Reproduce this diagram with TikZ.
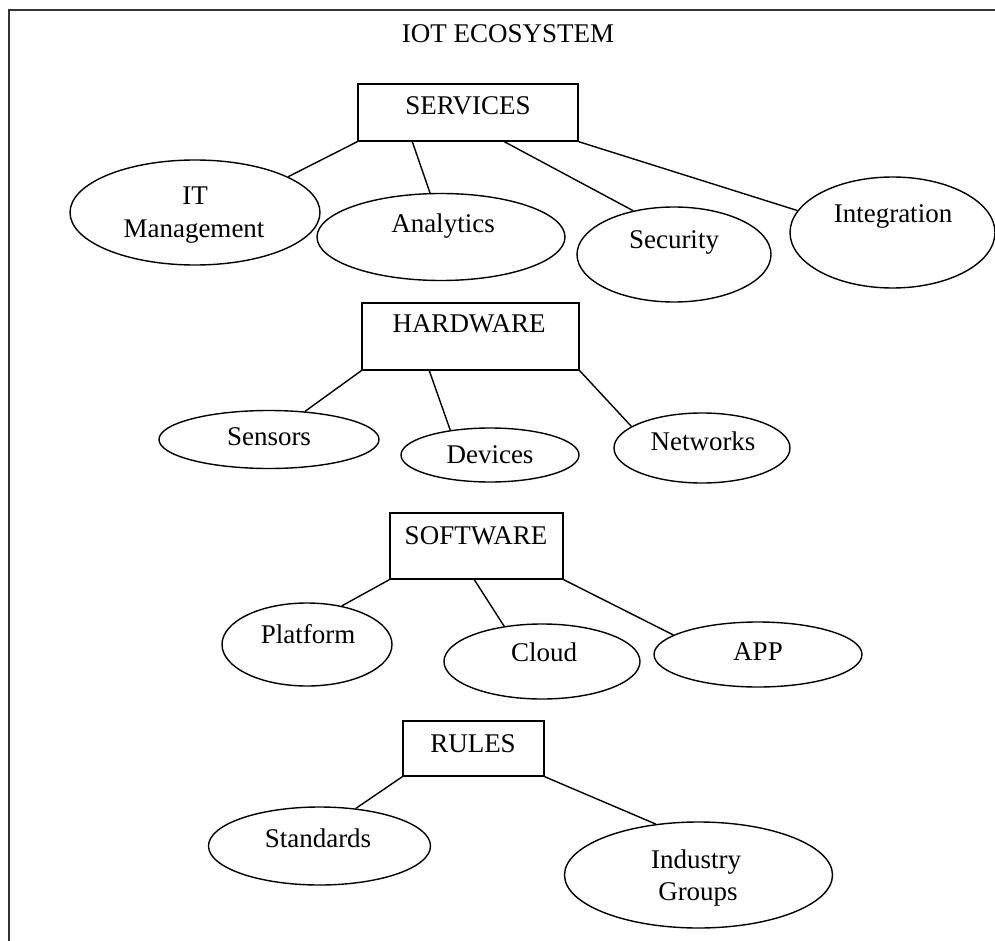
\documentclass[tikz,border=0pt]{standalone}
\usepackage{fontspec}
\setmainfont{Liberation Serif}
\usetikzlibrary{shapes.geometric}
\begin{document}
\begin{tikzpicture}[x=1pt,y=-1pt,
  oval/.style={ellipse, draw, line width=1.4pt, inner sep=0pt},
  box/.style={rectangle, draw, line width=1.4pt, inner sep=0pt},
  lbl/.style={anchor=base, inner sep=0pt, font=\fontsize{27}{31}\selectfont},
  link/.style={line width=1.4pt}]
\useasboundingbox (0,0) rectangle (995,941);
\fill[white] (0,0) rectangle (995,941);
\draw[line width=1.8pt, draw=black!80] (9,945) -- (9,10) -- (1000,10);

\node[lbl] (title) at (508,43) {IOT ECOSYSTEM};

% SERVICES
\node[box, minimum width=220pt, minimum height=57pt] (svc) at (468,112.5) {};
\node[lbl] (tsvc) at (468,115) {SERVICES};
\node[oval, minimum width=250pt, minimum height=105pt] (itm) at (195,212.5) {};
\node[lbl] (titm1) at (195,205) {IT};
\node[lbl] (titm2) at (194,237) {Management};
\node[oval, minimum width=248pt, minimum height=87pt] (ana) at (441,237) {};
\node[lbl] (tana) at (443,233) {Analytics};
\node[oval, minimum width=194pt, minimum height=95pt] (sec) at (674,254.5) {};
\node[lbl] (tsec) at (674,249) {Security};
\node[oval, minimum width=205pt, minimum height=111pt] (intg) at (892.5,232.5) {};
\node[lbl] (tintg) at (893,223) {Integration};
\draw[link] (svc.south west) -- (itm.21);
\draw[link] ([xshift=55pt]svc.south west) -- (ana.104);
\draw[link] ([xshift=147pt]svc.south west) -- (sec.133);
\draw[link] (svc.south east) -- (intg.167);

% HARDWARE
\node[box, minimum width=217pt, minimum height=67pt] (hw) at (470.5,336.5) {};
\node[lbl] (thw) at (469,332) {HARDWARE};
\node[oval, minimum width=220pt, minimum height=58pt] (sen) at (269,439.5) {};
\node[lbl] (tsen) at (269,445) {Sensors};
\node[oval, minimum width=178pt, minimum height=54pt] (dev) at (490,455) {};
\node[lbl] (tdev) at (490,463) {Devices};
\node[oval, minimum width=176pt, minimum height=70pt] (net) at (702,448) {};
\node[lbl] (tnet) at (703,450) {Networks};
\draw[link] (hw.south west) -- (sen.38);
\draw[link] ([xshift=68pt]hw.south west) -- (dev.148);
\draw[link] (hw.south east) -- (net.163);

% SOFTWARE
\node[box, minimum width=173pt, minimum height=66pt] (sw) at (476.5,546) {};
\node[lbl] (tsw) at (476,544) {SOFTWARE};
\node[oval, minimum width=170pt, minimum height=83pt] (plat) at (307,644.5) {};
\node[lbl] (tplat) at (308,643) {Platform};
\node[oval, minimum width=196pt, minimum height=75pt] (cld) at (542,661.5) {};
\node[lbl] (tcld) at (544,661) {Cloud};
\node[oval, minimum width=208pt, minimum height=65pt] (app) at (758,654.5) {};
\node[lbl] (tapp) at (758,660) {APP};
\draw[link] (sw.south west) -- (plat.48);
\draw[link] ([xshift=85pt]sw.south west) -- (cld.137);
\draw[link] (sw.south east) -- (app.167);

% RULES
\node[box, minimum width=141pt, minimum height=55pt] (rul) at (473.5,748.5) {};
\node[lbl] (trul) at (473,752) {RULES};
\node[oval, minimum width=222pt, minimum height=78pt] (std) at (319.5,846) {};
\node[lbl] (tstd) at (318,847) {Standards};
\node[oval, minimum width=268pt, minimum height=106pt] (ind) at (698.5,875) {};
\node[lbl] (tind1) at (696,868) {Industry};
\node[lbl] (tind2) at (698,900) {Groups};
\draw[link] (rul.south west) -- (std.46);
\draw[link] (rul.south east) -- (ind.130);
\end{tikzpicture}
\end{document}
